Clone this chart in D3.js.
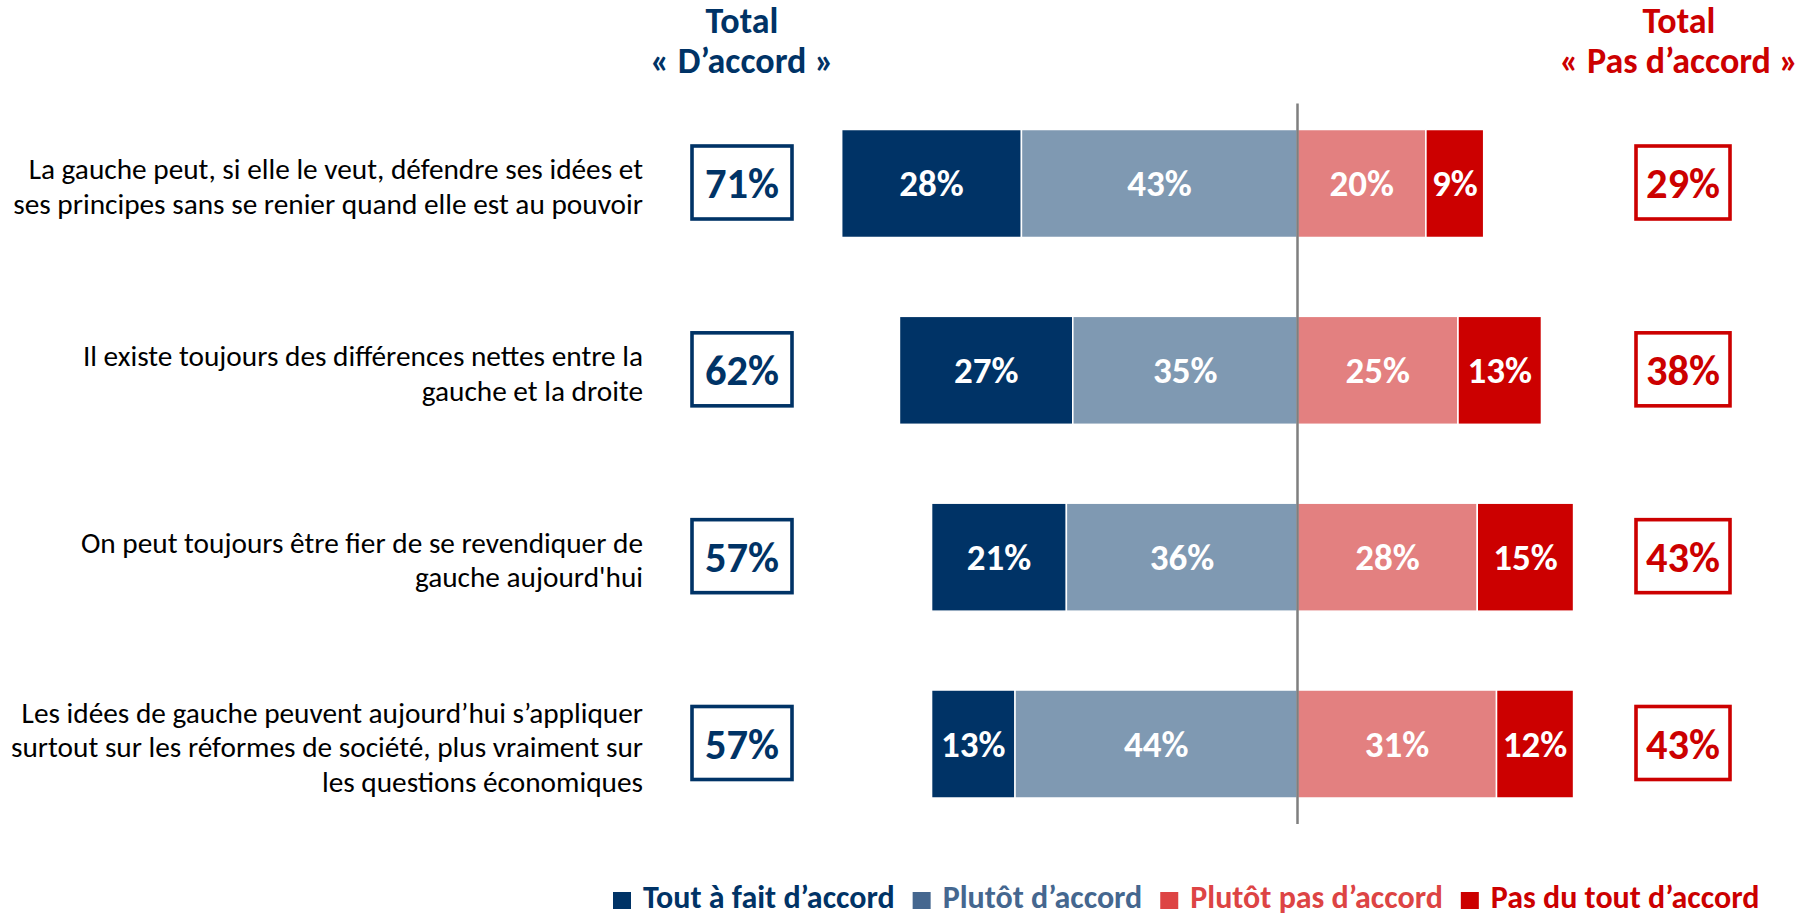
<!DOCTYPE html>
<html><head><meta charset="utf-8">
<script src="https://cdn.jsdelivr.net/npm/d3@7"></script>
<style>
html,body{margin:0;padding:0;background:#fff;}
svg{display:block;font-family:Carlito, Lato, "Open Sans", sans-serif;}
</style></head>
<body>
<svg id="chart" width="1808" height="917"></svg>
<script>
// ---- data ----
const categories = [
  ["La gauche peut, si elle le veut, défendre ses idées et", "ses principes sans se renier quand elle est au pouvoir"],
  ["Il existe toujours des différences nettes entre la", "gauche et la droite"],
  ["On peut toujours être fier de se revendiquer de", "gauche aujourd'hui"],
  ["Les idées de gauche peuvent aujourd’hui s’appliquer", "surtout sur les réformes de société, plus vraiment sur", "les questions économiques"]
];
const toutAFait   = [28, 27, 21, 13];
const plutot      = [43, 35, 36, 44];
const plutotPas   = [20, 25, 28, 31];
const pasDuTout   = [9, 13, 15, 12];
const totalAccord = [71, 62, 57, 57];
const totalPas    = [29, 38, 43, 43];
const seriesNames = ["Tout à fait d’accord", "Plutôt d’accord", "Plutôt pas d’accord", "Pas du tout d’accord"];
const headerLeft  = ["Total", "« D’accord »"];
const headerRight = ["Total", "« Pas d’accord »"];

// ---- styles ----
const barColors = ["#003366", "#7F99B2", "#E38080", "#CC0000"];
const legendColors = ["#003366", "#45678F", "#DD4444", "#CC0000"];
const navy = "#003366", red = "#CC0000";

const svg = d3.select("#chart");
const idx = d3.range(categories.length);

const centerX = 1297.5, pxPerPct = 6.42;
const x = d3.scaleLinear().domain([-50, 50]).range([centerX - 50 * pxPerPct, centerX + 50 * pxPerPct]);
const y = d3.scaleBand().domain(idx).range([129.5, 798]).paddingInner(0.422).paddingOuter(0);
const bw = y.bandwidth();

// stacked segments
const segs = [];
idx.forEach(i => {
  const a = toutAFait[i], b = plutot[i], c = plutotPas[i], d = pasDuTout[i];
  segs.push({i, s: 0, x0: -(a + b), x1: -b, v: a});
  segs.push({i, s: 1, x0: -b, x1: 0, v: b});
  segs.push({i, s: 2, x0: 0, x1: c, v: c});
  segs.push({i, s: 3, x0: c, x1: c + d, v: d});
});

const g = svg.append("g");
g.selectAll("rect.seg").data(segs).join("rect")
  .attr("class", "seg")
  .attr("x", d => x(d.x0))
  .attr("width", d => x(d.x1) - x(d.x0))
  .attr("y", d => y(d.i))
  .attr("height", bw)
  .attr("fill", d => barColors[d.s])
  .attr("stroke", "#fff").attr("stroke-width", 1.5);

g.selectAll("text.seglab").data(segs).join("text")
  .attr("class", "seglab")
  .attr("x", d => (x(d.x0) + x(d.x1)) / 2)
  .attr("y", d => y(d.i) + bw / 2 + 13)
  .attr("text-anchor", "middle")
  .attr("fill", "#fff")
  .attr("font-weight", "bold")
  .attr("font-size", 37)
  .text(d => d.v + "%");

// center line
svg.append("line")
  .attr("x1", x(0)).attr("x2", x(0))
  .attr("y1", 103.5).attr("y2", 824)
  .attr("stroke", "#7f7f7f").attr("stroke-width", 2.5);

// left labels
const lineH = 34.5;
idx.forEach(i => {
  const lines = categories[i];
  const cy = y(i) + bw / 2 + 3;
  const t = svg.append("text")
    .attr("text-anchor", "end")
    .attr("font-size", 29.3)
    .attr("fill", "#000");
  lines.forEach((ln, k) => {
    t.append("tspan")
      .attr("x", 643)
      .attr("y", cy + (k - (lines.length - 1) / 2) * lineH + 10)
      .text(ln);
  });
});

// total boxes
function boxes(vals, cx, w, color) {
  const h = 73;
  const gb = svg.append("g");
  gb.selectAll("rect").data(idx).join("rect")
    .attr("x", cx - w / 2).attr("width", w)
    .attr("y", i => y(i) + bw / 2 - h / 2 - 1).attr("height", h)
    .attr("fill", "#fff").attr("stroke", color).attr("stroke-width", 3.6);
  gb.selectAll("text").data(idx).join("text")
    .attr("x", cx)
    .attr("y", i => y(i) + bw / 2 + 14.5)
    .attr("text-anchor", "middle")
    .attr("font-weight", "bold")
    .attr("font-size", 42.5)
    .attr("fill", color)
    .text(i => vals[i] + "%");
}
boxes(totalAccord, 742, 100, navy);
boxes(totalPas, 1683, 94, red);

// headers
function header(lines, cx, color) {
  lines.forEach((ln, k) => {
    svg.append("text")
      .attr("x", cx).attr("y", 33 + k * 40)
      .attr("text-anchor", "middle")
      .attr("font-weight", "bold")
      .attr("font-size", 36)
      .attr("fill", color)
      .text(ln);
  });
}
header(headerLeft, 742, navy);
header(headerRight, 1679, red);

// legend
const lg = svg.append("g");
let lx = 613;
seriesNames.forEach((name, k) => {
  lg.append("rect").attr("x", lx).attr("y", 892).attr("width", 18).attr("height", 17)
    .attr("fill", legendColors[k]);
  const t = lg.append("text").attr("x", lx + 30).attr("y", 908)
    .attr("font-weight", "bold").attr("font-size", 32)
    .attr("fill", legendColors[k]).text(name);
  lx = lx + 30 + t.node().getComputedTextLength() + 18;
});
</script>
</body></html>
